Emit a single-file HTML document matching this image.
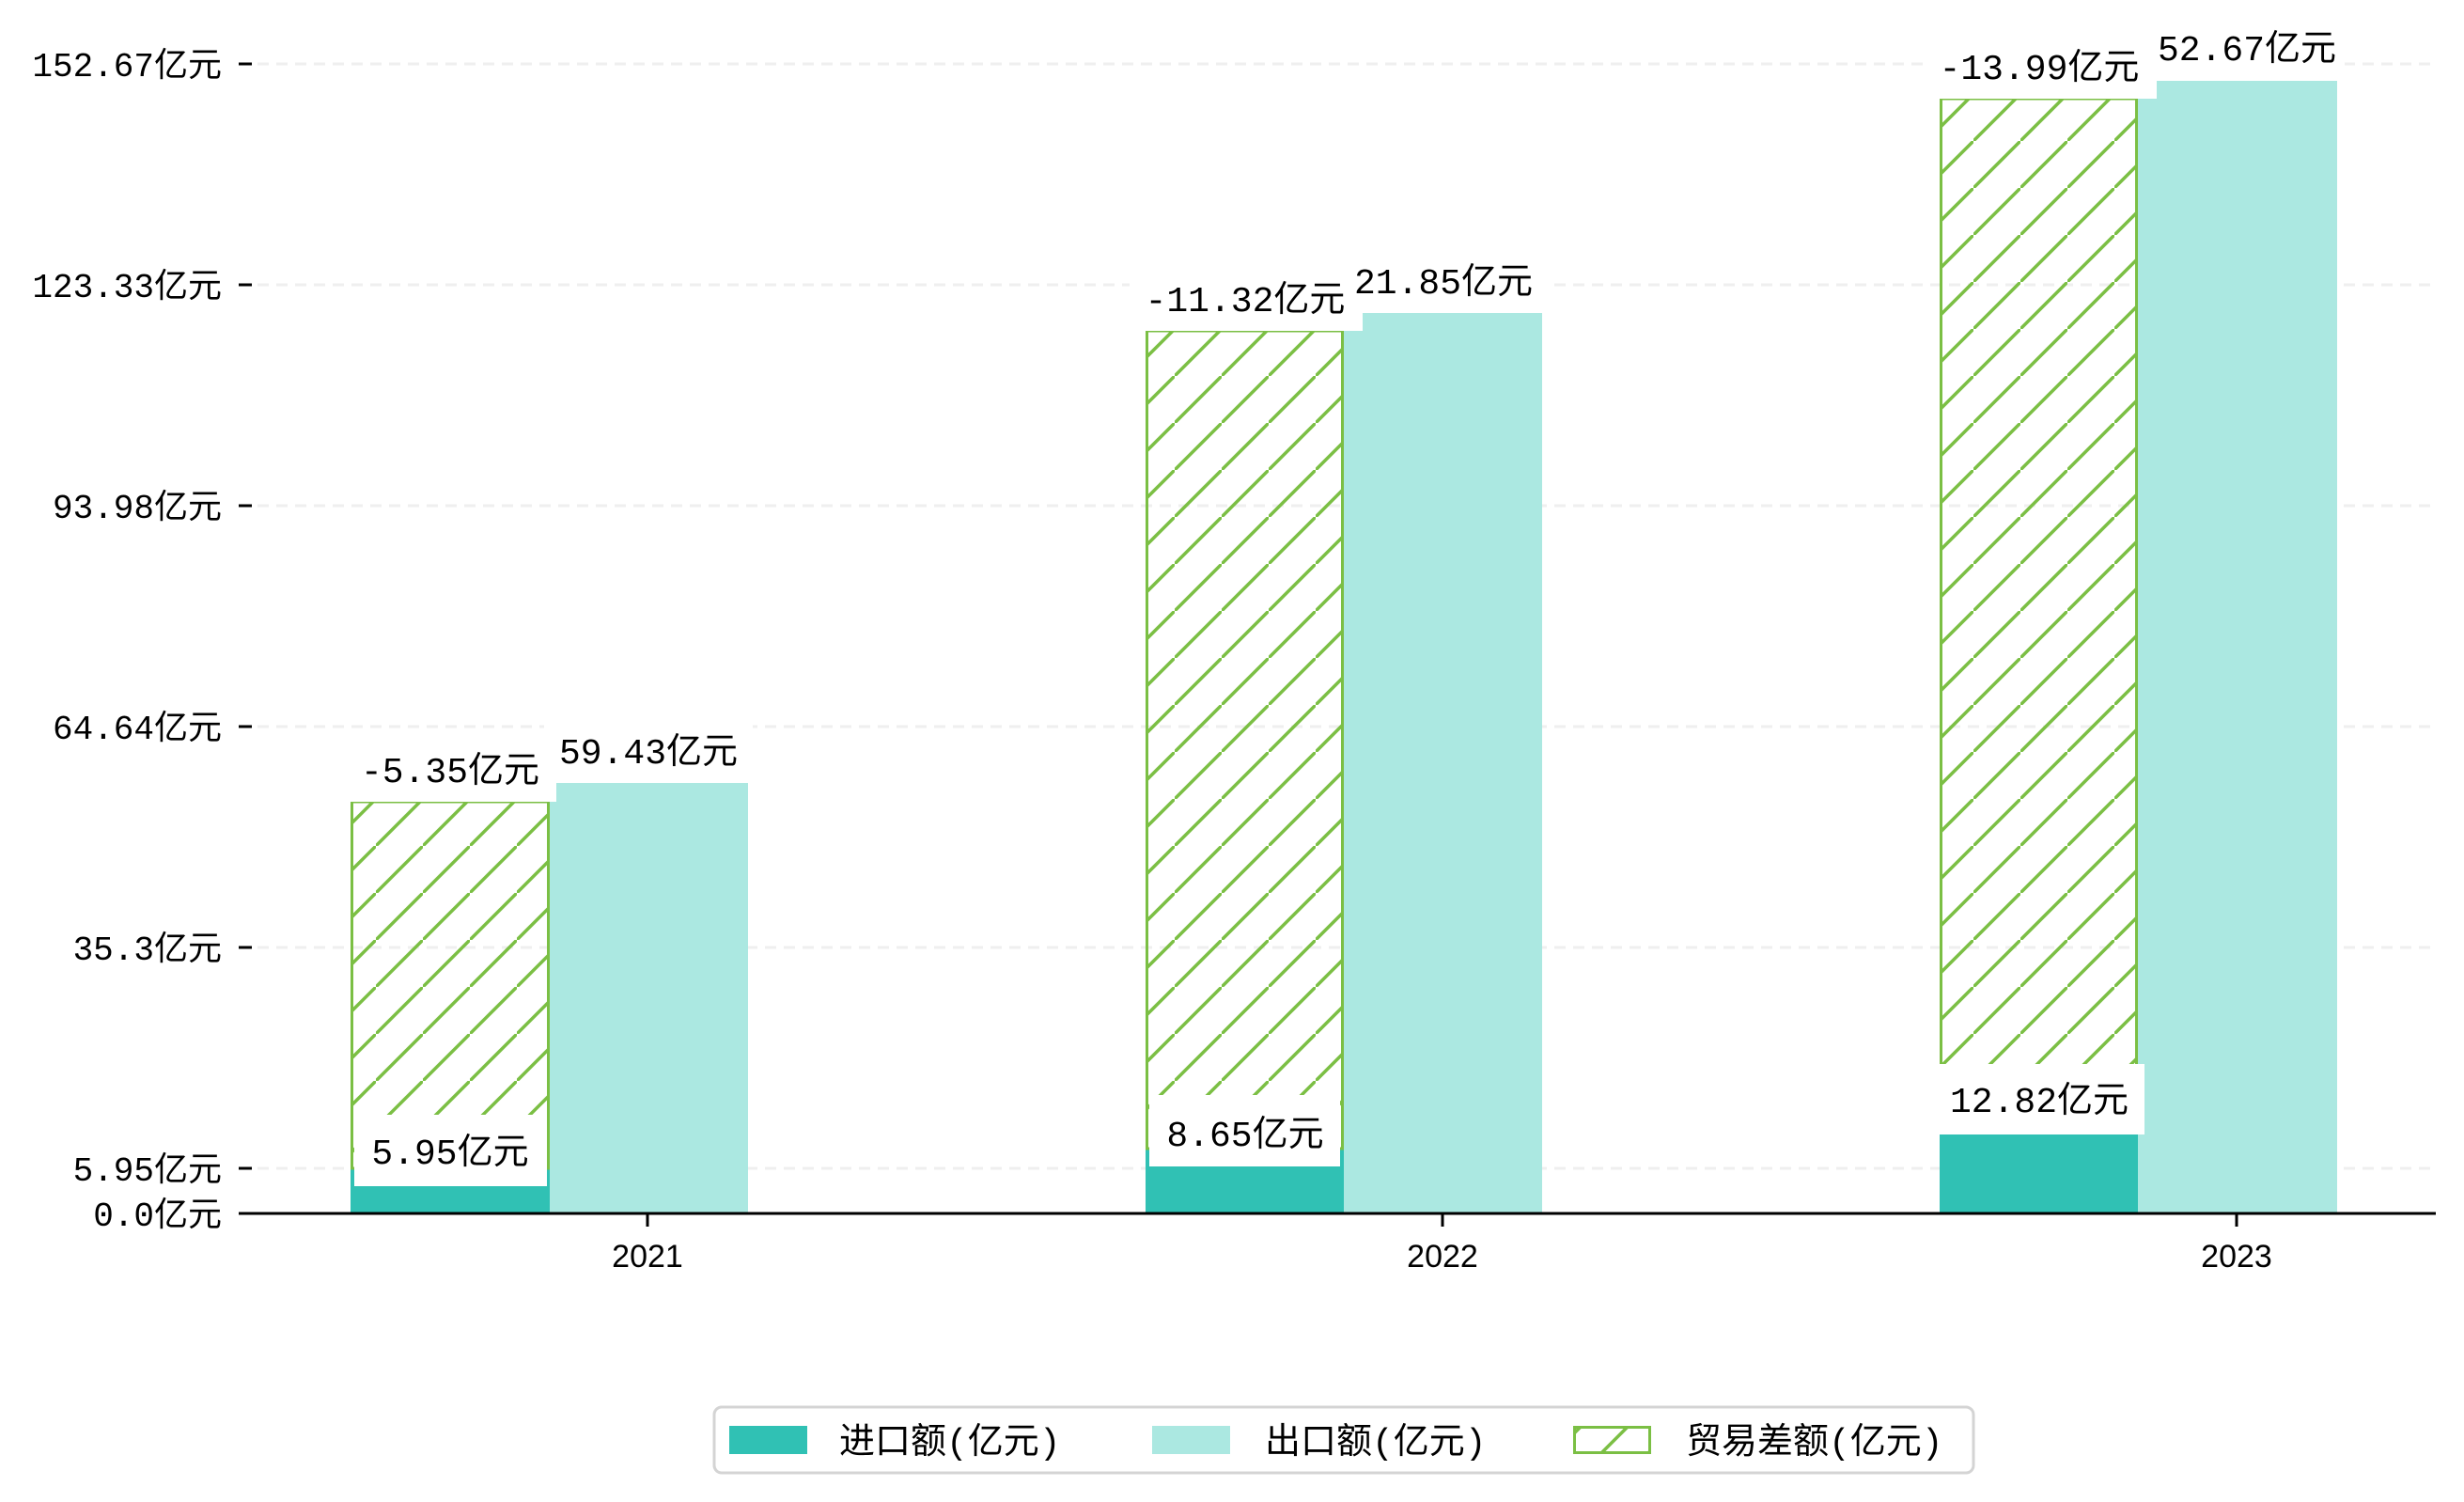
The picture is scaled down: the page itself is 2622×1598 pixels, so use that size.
<!DOCTYPE html>
<html><head><meta charset="utf-8"><style>
html,body{margin:0;padding:0;background:#fff;}
svg{display:block;}
text{font-family:"Liberation Mono","Noto Sans CJK SC",monospace;fill:#000;}
.s{font-family:"Liberation Sans","Noto Sans CJK SC",sans-serif;}
</style></head><body>
<svg width="2622" height="1598" viewBox="0 0 2622 1598" xmlns="http://www.w3.org/2000/svg">
<defs>
<pattern id="h" patternUnits="userSpaceOnUse" width="50" height="50">
<line x1="-5" y1="55" x2="55" y2="-5" stroke="#7bbf44" stroke-width="3.5"/>
</pattern>
</defs>
<g stroke="#efefef" stroke-width="3" stroke-dasharray="12,8">
<line x1="254" y1="68" x2="2592" y2="68"/>
<line x1="254" y1="303" x2="2592" y2="303"/>
<line x1="254" y1="538" x2="2592" y2="538"/>
<line x1="254" y1="773" x2="2592" y2="773"/>
<line x1="254" y1="1008" x2="2592" y2="1008"/>
<line x1="254" y1="1243" x2="2592" y2="1243"/>
</g>
<g stroke="#000" stroke-width="3">
<line x1="254" y1="68" x2="268" y2="68"/>
<line x1="254" y1="303" x2="268" y2="303"/>
<line x1="254" y1="538" x2="268" y2="538"/>
<line x1="254" y1="773" x2="268" y2="773"/>
<line x1="254" y1="1008" x2="268" y2="1008"/>
<line x1="254" y1="1243" x2="268" y2="1243"/>
<line x1="254" y1="1291" x2="268" y2="1291"/>
</g>
<g font-size="36" text-anchor="end">
<text x="236" y="81">152.67亿元</text>
<text x="236" y="316">123.33亿元</text>
<text x="236" y="551">93.98亿元</text>
<text x="236" y="786">64.64亿元</text>
<text x="236" y="1021">35.3亿元</text>
<text x="236" y="1256">5.95亿元</text>
<text x="236" y="1304">0.0亿元</text>
</g>
<rect x="584" y="833" width="212" height="458" fill="#abe8e1"/>
<rect x="373" y="1243" width="212" height="48" fill="#30c1b4"/>
<rect x="374.5" y="853" width="209" height="390" fill="url(#h)" stroke="#7bbf44" stroke-width="3"/>
<rect x="1430" y="333" width="211" height="958" fill="#abe8e1"/>
<rect x="1219" y="1222" width="211" height="69" fill="#30c1b4"/>
<rect x="1220.5" y="352" width="208" height="870" fill="url(#h)" stroke="#7bbf44" stroke-width="3"/>
<rect x="2275" y="86" width="212" height="1205" fill="#abe8e1"/>
<rect x="2064" y="1188" width="211" height="103" fill="#30c1b4"/>
<rect x="2065.5" y="105" width="208" height="1083" fill="url(#h)" stroke="#7bbf44" stroke-width="3"/>
<g fill="#fff">
<rect x="368" y="777" width="224" height="76"/>
<rect x="579" y="757" width="222" height="76"/>
<rect x="377" y="1186" width="205" height="76"/>
<rect x="1202" y="276" width="248" height="76"/>
<rect x="1425" y="257" width="222" height="76"/>
<rect x="1223" y="1165" width="203" height="76"/>
<rect x="2047" y="29" width="248" height="76"/>
<rect x="2273" y="10" width="222" height="76"/>
<rect x="2058" y="1132" width="224" height="75"/>
</g>
<g font-size="38" text-anchor="middle">
<text x="479" y="832">-5.35亿元</text>
<text x="690" y="812">59.43亿元</text>
<text x="479" y="1238">5.95亿元</text>
<text x="1325" y="331">-11.32亿元</text>
<text x="1536" y="312">21.85亿元</text>
<text x="1325" y="1219">8.65亿元</text>
<text x="2170" y="84">-13.99亿元</text>
<text x="2391" y="64">52.67亿元</text>
<text x="2170" y="1183">12.82亿元</text>
</g>
<line x1="254" y1="1291" x2="2592" y2="1291" stroke="#000" stroke-width="3"/>
<g stroke="#000" stroke-width="3">
<line x1="689" y1="1291" x2="689" y2="1305"/>
<line x1="1535" y1="1291" x2="1535" y2="1305"/>
<line x1="2380" y1="1291" x2="2380" y2="1305"/>
</g>
<g font-size="34" text-anchor="middle" class="s">
<text class="s" x="689" y="1348">2021</text>
<text class="s" x="1535" y="1348">2022</text>
<text class="s" x="2380" y="1348">2023</text>
</g>
<rect x="760" y="1497" width="1340" height="70" rx="8" fill="#fff" stroke="#d4d4d4" stroke-width="3"/>
<rect x="776" y="1517" width="83" height="30" fill="#30c1b4"/>
<rect x="1226" y="1517" width="83" height="30" fill="#abe8e1"/>
<rect x="1675.5" y="1518.5" width="80" height="27" fill="url(#h)" stroke="#7bbf44" stroke-width="3"/>
<g font-size="38">
<text x="893" y="1546">进口额(亿元)</text>
<text x="1346" y="1546">出口额(亿元)</text>
<text x="1794" y="1546">贸易差额(亿元)</text>
</g>
</svg>
</body></html>
